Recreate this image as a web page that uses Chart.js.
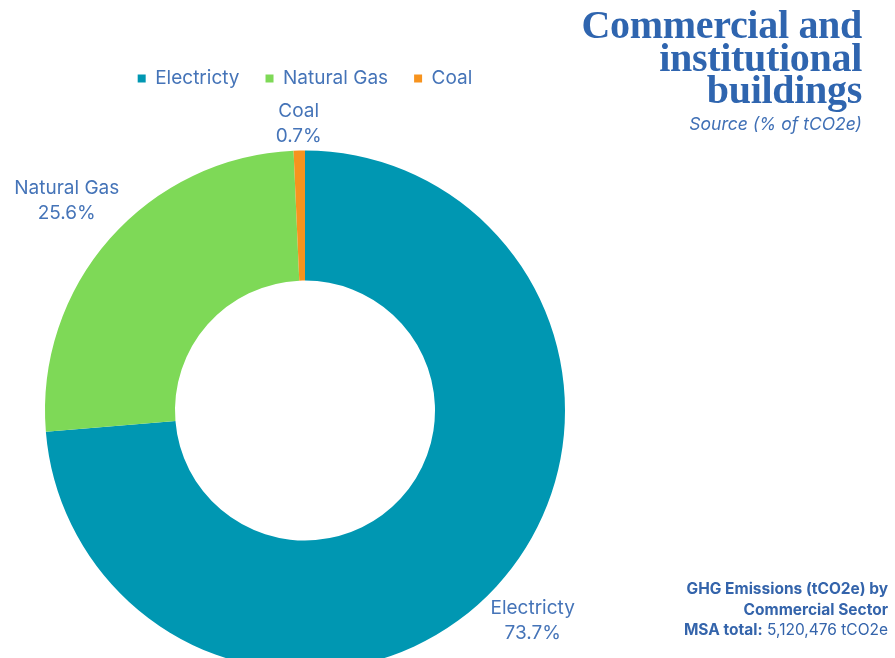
<!DOCTYPE html>
<html>
<head>
<meta charset="utf-8">
<script src="https://cdn.jsdelivr.net/npm/chart.js@4/dist/chart.umd.min.js"></script>
<style>
  html, body { margin: 0; padding: 0; background: #fff; overflow: hidden; }
  #wrap { position: relative; width: 895px; height: 658px; overflow: hidden; }
  #sourceChart { position: absolute; left: 0; top: 0; }
  .title {
    position: absolute; right: 33px; top: 9px; text-align: right;
    font-family: "Liberation Serif", serif; font-weight: bold;
    font-size: 40px; line-height: 32.5px; color: #2f65af; letter-spacing: -0.3px;
  }
  .subtitle {
    position: absolute; right: 33px; top: 113px; text-align: right;
    font-family: Inter, sans-serif; font-style: italic; font-size: 17.5px; color: #3f6fb5;
  }
  .note {
    position: absolute; right: 7px; top: 579px; text-align: right;
    font-family: Inter, sans-serif; font-size: 15.5px; line-height: 20.5px; color: #3464ab;
  }
  .note b { font-weight: 700; }
</style>
</head>
<body>
<div id="wrap">
  <canvas id="sourceChart" width="895" height="680"></canvas>
  <div class="title">Commercial and<br>institutional<br>buildings</div>
  <div class="subtitle">Source (% of tCO2e)</div>
  <div class="note"><b>GHG Emissions (tCO2e) by</b><br><b>Commercial Sector</b><br><b>MSA total:</b> 5,120,476 tCO2e</div>
</div>
<script>
// Dữ liệu biểu đồ
const sources = ['Electricty', 'Natural Gas', 'Coal'];
const shares = [73.7, 25.6, 0.7];
const sliceColors = ['#0097b2', '#7ed957', '#f7931e'];

const textColor = '#4574b8';
const labelFont = '19px Inter, sans-serif';

// Đẩy biểu đồ xuống dưới chú thích
const legendGap = {
    id: 'legendGap',
    beforeInit(chart) {
        const fit = chart.legend.fit;
        chart.legend.fit = function() {
            fit.bind(chart.legend)();
            this.height += 51;
        };
    },
};

// Nhãn bên ngoài mỗi lát
const outsideLabels = {
    id: 'outsideLabels',
    afterDatasetsDraw(chart) {
        const ctx = chart.ctx;
        const arcs = chart.getDatasetMeta(0).data;
        ctx.save();
        ctx.font = labelFont;
        ctx.fillStyle = textColor;
        ctx.textAlign = 'center';
        ctx.textBaseline = 'middle';
        arcs.forEach((arc, i) => {
            const p = arc.getProps(['x', 'y', 'startAngle', 'endAngle', 'outerRadius'], true);
            const mid = (p.startAngle + p.endAngle) / 2;
            const dx = Math.cos(mid), dy = Math.sin(mid);
            const lines = [sources[i], shares[i].toFixed(1) + '%'];
            const w = Math.max(...lines.map(t => ctx.measureText(t).width));
            const h = 46;
            const dist = p.outerRadius + 3 + Math.abs(dx) * w / 2 + Math.abs(dy) * h / 2;
            const cx = p.x + dx * dist;
            const cy = p.y + dy * dist;
            ctx.fillText(lines[0], cx, cy - 12.5);
            ctx.fillText(lines[1], cx, cy + 12.5);
        });
        ctx.restore();
    },
};

const ctx = document.getElementById('sourceChart').getContext('2d');
new Chart(ctx, {
    type: 'doughnut',
    data: {
        labels: sources,
        datasets: [{
            data: shares,
            backgroundColor: sliceColors,
            borderWidth: 0,
        }],
    },
    options: {
        responsive: false,
        animation: false,
        devicePixelRatio: 1,
        cutout: '50%',
        layout: { padding: { left: 45, right: 330, top: 43, bottom: 8 } },
        plugins: {
            legend: {
                position: 'top',
                labels: {
                    usePointStyle: true,
                    pointStyle: 'rect',
                    boxWidth: 8,
                    boxHeight: 8,
                    padding: 26,
                    color: textColor,
                    font: { family: 'Inter, sans-serif', size: 19 },
                },
            },
            tooltip: { enabled: false },
        },
    },
    plugins: [legendGap, outsideLabels],
});
</script>
</body>
</html>
